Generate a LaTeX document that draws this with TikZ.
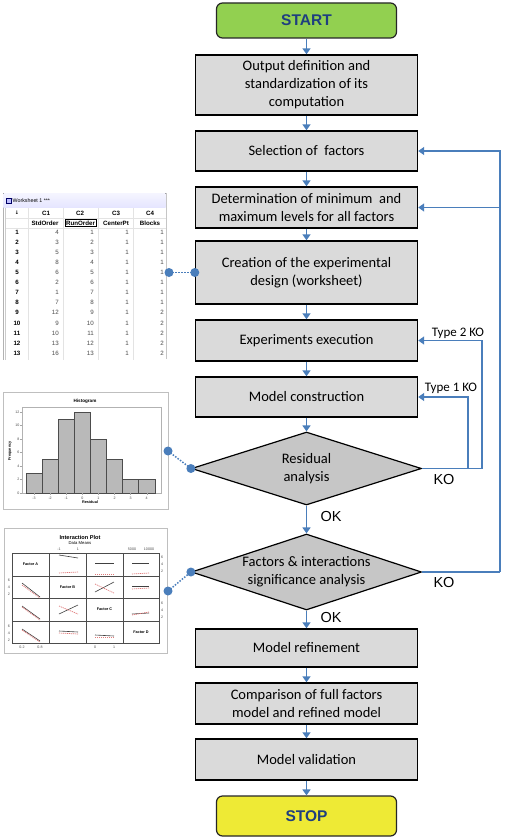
\documentclass[tikz,border=0pt]{standalone}
\usepackage{fontspec}
\setmainfont{Carlito}
\newfontfamily\arialf{Liberation Sans}
\newfontfamily\djvf{DejaVu Sans}
\usetikzlibrary{shapes.geometric,arrows.meta,calc}
\definecolor{flowblue}{HTML}{4A7EBB}
\definecolor{boxgray}{HTML}{DADADA}
\definecolor{diagray}{HTML}{C6C6C6}
\definecolor{startgreen}{HTML}{92D050}
\definecolor{stopyellow}{HTML}{EEEA35}
\definecolor{titleblue}{HTML}{1F3F7F}
\definecolor{plotred}{HTML}{E07A7A}
\begin{document}
\begin{tikzpicture}[x=1pt,y=-1pt,
  proc/.style={rectangle, draw=black, line width=1.4pt, fill=boxgray, minimum width=222pt, inner sep=0pt, align=center, font=\fontsize{14.5}{18}\selectfont},
  term/.style={rectangle, rounded corners=6pt, draw=black!85, line width=1.2pt, minimum width=180pt, font=\arialf\bfseries\fontsize{15.5}{18}\selectfont, text=titleblue},
  dec/.style={diamond, draw=black, line width=1.2pt, fill=diagray, shape aspect=3, inner sep=0pt, minimum width=230pt, align=center, font=\fontsize{14.5}{18}\selectfont},
  arr/.style={draw=flowblue, line width=1.8pt, -{Triangle[width=8pt,length=6pt]}},
  loopline/.style={draw=flowblue, line width=1.4pt},
  looparr/.style={loopline, -{Triangle[width=8pt,length=6pt]}},
  lbl/.style={font=\arialf\fontsize{14.5}{17}\selectfont},
  tlbl/.style={font=\fontsize{13}{15}\selectfont},
  dot/.style={circle, fill=flowblue, minimum size=9pt, inner sep=0pt},
  dotline/.style={draw=flowblue, line width=1.5pt, dash pattern=on 1.5pt off 1.5pt},
  wsb/.style={font=\arialf\bfseries\fontsize{6.2}{7}\selectfont, inner sep=0pt},
  wsv/.style={font=\arialf\fontsize{6.2}{7}\selectfont, text=black!70, inner sep=0pt, anchor=east},
  tiny/.style={font=\arialf\fontsize{3.6}{4}\selectfont, inner sep=0pt, text=black!70},
  tinyb/.style={font=\arialf\bfseries\fontsize{3.8}{4}\selectfont, inner sep=0pt},
  blk/.style={draw=black!75, line width=0.6pt},
  redd/.style={draw=plotred, line width=0.7pt, dash pattern=on 1.2pt off 0.8pt},
]
\useasboundingbox[fill=white] (0,0) rectangle (505,840);

% ---------------- main flow ----------------
\node[term, fill=startgreen, minimum height=35pt] (start) at (306.5,20.5) {START};
\node[proc, minimum height=60pt] (b1) at (306.5,85) {Output definition and\\standardization of its\\computation};
\node[proc, minimum height=40pt] (b2) at (306.5,151) {Selection of\ \ factors};
\node[proc, minimum height=41pt] (b3) at (306.5,207.5) {Determination of minimum\ \ and\\maximum levels for all factors};
\node[proc, minimum height=63pt] (b4) at (306.5,272.5) {Creation of the experimental\\design (worksheet)};
\node[proc, minimum height=41pt] (b5) at (306.5,340.5) {Experiments execution};
\node[proc, minimum height=40pt] (b6) at (306.5,397) {Model construction};
\node[dec, minimum height=73pt] (d1) at (306.5,468.5) {Residual\\analysis};
\node[dec, minimum height=76pt] (d2) at (306.5,572) {Factors \& interactions\\significance analysis};
\node[proc, minimum height=38pt] (b7) at (306.5,648) {Model refinement};
\node[proc, minimum height=41pt] (b8) at (306.5,703.5) {Comparison of full factors\\model and refined model};
\node[proc, minimum height=41pt] (b9) at (306.5,759.5) {Model validation};
\node[term, fill=stopyellow, minimum height=40pt] (stop) at (306.5,816) {STOP};

\foreach \a/\b in {start/b1,b1/b2,b2/b3,b3/b4,b4/b5,b5/b6,b6/d1,d1/d2,d2/b7,b7/b8,b8/b9,b9/stop}
  \draw[arr] (\a.south) -- (\b.north);

\node[lbl] (ok1) at (331,517) {OK};
\node[lbl] (ko1) at (444,480) {KO};
\node[lbl] (ok2) at (331,618) {OK};
\node[lbl] (ko2) at (444,583) {KO};
\node[tlbl] (t2) at (458,333) {Type 2 KO};
\node[tlbl] (t1) at (451,388) {Type 1 KO};

\coordinate (c2) at (482,468.5);
\coordinate (c1) at (468,468.5);
\coordinate (cm) at (500,572);
\draw[loopline] (d1.east) -- (c2);
\draw[looparr] (c2) |- (b5.east);
\draw[looparr] (c1) |- (b6.east);
\draw[loopline] (d2.east) -- (cm);
\draw[looparr] (cm) |- (b2.east);
\draw[looparr] (cm |- b3.east) -- (b3.east);

% ---------------- worksheet ----------------
\node[draw=gray!45, fill=white, line width=0.6pt, minimum width=163pt, minimum height=168pt, inner sep=0pt, anchor=north west] (wsframe) at (3,193) {};
\fill[white] (2,359) rectangle (168,362);
\draw[gray!60, line width=0.5pt] (3,193) -- (3,360);
\draw[gray!40, line width=0.5pt] (5.5,208) -- (5.5,360);
\fill[top color=blue!4, bottom color=blue!10] (3.4,193.4) rectangle (165.6,207);
\node[draw=blue!40!black, fill=blue!25, minimum width=5pt, minimum height=5pt, inner sep=0pt] (wsicon) at (9,201) {};
\node[font=\arialf\fontsize{5.3}{6}\selectfont, anchor=west, inner sep=0pt] (wstitle) at (12.5,201) {Worksheet 1 ***};
\foreach \x in {28,63,98,133} \draw[gray!22, line width=0.4pt] (\x,208) -- (\x,360);
\draw[gray!22, line width=0.4pt] (5.5,218) -- (166,218) (5.5,228.5) -- (166,228.5);
\node[font=\djvf\bfseries\fontsize{5}{6}\selectfont, inner sep=0pt] (wsarrow) at (17,213) {↓};
\node[wsb] (hc1) at (46,213) {C1};
\node[wsb] (hc2) at (80,213) {C2};
\node[wsb] (hc3) at (116,213) {C3};
\node[wsb] (hc4) at (150,213) {C4};
\node[wsb] (hn1) at (45,223) {StdOrder};
\node[wsb, draw=black, line width=0.8pt, inner sep=1pt] (hn2) at (80.5,223) {RunOrder};
\node[wsb] (hn3) at (116,223) {CenterPt};
\node[wsb] (hn4) at (150,223) {Blocks};
\foreach \v [count=\i] in {4,3,5,8,6,2,1,7,12,9,10,13,16} {
  \node[wsb] (ri\i) at (17,{232+(\i-1)*10.1}) {\i};
  \node[wsv] (va\i) at (59,{232+(\i-1)*10.1}) {\v};
  \node[wsv] (vb\i) at (94,{232+(\i-1)*10.1}) {\i};
  \node[wsv] (vc\i) at (129,{232+(\i-1)*10.1}) {1};
}
\foreach \v [count=\i] in {1,1,1,1,1,1,1,1,2,2,2,2,2}
  \node[wsv] (vd\i) at (164,{232+(\i-1)*10.1}) {\v};

% ---------------- histogram ----------------
\node[draw=gray!50, fill=white, line width=0.6pt, minimum width=165pt, minimum height=117pt, inner sep=0pt, anchor=north west] (hframe) at (3,392) {};
\draw[gray!60, line width=0.5pt] (22,407) rectangle (161,493);
\foreach \h [count=\i] in {3,5,11,12,8,5,2,2}
  \draw[fill=gray!55, draw=black!70, line width=0.5pt] ({26+(\i-1)*16.1},493) rectangle ({26+\i*16.1},{493-\h*6.75});
\foreach \t [count=\i] in {-3,-2,-1,0,1,2,3,4} {
  \draw[gray!70, line width=0.4pt] ({34+(\i-1)*16.1},493) -- ({34+(\i-1)*16.1},495);
  \node[tiny] (hx\i) at ({34+(\i-1)*16.1},498) {\t};
}
\foreach \v [count=\i] in {0,2,4,6,8,10,12} {
  \draw[gray!70, line width=0.4pt] (22,{493-\v*6.75}) -- (20,{493-\v*6.75});
  \node[tiny, anchor=east] (hy\i) at (19.5,{493-\v*6.75}) {\v};
}
\node[font=\arialf\bfseries\fontsize{4.6}{5}\selectfont, inner sep=0pt] (htitle) at (85,401) {Histogram};
\node[tinyb] (hxl) at (90,502.5) {Residual};
\node[tinyb, rotate=90] (hyl) at (10,451) {Frequency};

% ---------------- interaction plot ----------------
\node[draw=gray!50, fill=white, line width=0.6pt, minimum width=163pt, minimum height=125pt, inner sep=0pt, anchor=north west] (iframe) at (4,528) {};
\node[font=\arialf\bfseries\fontsize{5.6}{6}\selectfont, inner sep=0pt] (ititle) at (80,537) {Interaction Plot};
\node[font=\arialf\fontsize{4.2}{5}\selectfont, inner sep=0pt] (isub) at (80,543.5) {Data Means};
\draw[gray!60!black, line width=0.6pt] (12,553) rectangle (159,643);
\foreach \x in {49,86,123} \draw[gray!60!black, line width=0.6pt] (\x,553) -- (\x,643);
\foreach \y in {576,598,621} \draw[gray!60!black, line width=0.6pt] (12,\y) -- (159,\y);
\node[tinyb] (fa) at (30.5,564.5) {Factor A};
\node[tinyb] (fb) at (67.5,587) {Factor B};
\node[tinyb] (fc) at (104.5,609.5) {Factor C};
\node[tinyb] (fd) at (141,632) {Factor D};
% black (solid) and red (dashed) mean lines
\draw[blk] (59,555) -- (78,558);   \draw[redd] (59,573) -- (78,572);
\draw[blk] (95,563) -- (114,563);  \draw[redd] (95,574) -- (114,574);
\draw[blk] (132,563) -- (149,563); \draw[redd] (132,574) -- (149,573);
\draw[blk] (22,583) -- (40,597);   \draw[redd] (22,585) -- (40,598);
\draw[blk] (95,592) -- (114,582);  \draw[redd] (95,584) -- (114,593);
\draw[blk] (132,586) -- (149,586); \draw[redd] (132,589) -- (149,588);
\draw[blk] (22,606) -- (40,619);   \draw[redd] (22,607) -- (40,620);
\draw[blk] (59,614) -- (78,605);   \draw[redd] (59,606) -- (78,614);
\draw[blk] (132,614) -- (149,613); \draw[redd] (132,615) -- (149,612);
\draw[blk] (22,629) -- (40,641);   \draw[redd] (22,630) -- (40,642);
\draw[blk] (59,631) -- (78,632);   \draw[redd] (59,633) -- (78,634);
\draw[blk] (95,635) -- (114,636);  \draw[redd] (95,637) -- (114,637);
% axis labels
\node[tiny] (it1) at (59,549.5) {-1};
\node[tiny] (it2) at (78,549.5) {1};
\node[tiny] (it3) at (132,549.5) {5000};
\node[tiny] (it4) at (149,549.5) {10000};
\foreach \v/\y [count=\i] in {6/557,4/564,2/571} \node[tiny, anchor=west] (ir\i) at (161,\y) {\v};
\foreach \v/\y [count=\i] in {6/603,4/610,2/617} \node[tiny, anchor=west] (is\i) at (161,\y) {\v};
\foreach \v/\y [count=\i] in {6/580,4/587,2/594} \node[tiny, anchor=east] (il\i) at (10,\y) {\v};
\foreach \v/\y [count=\i] in {6/626,4/633,2/640} \node[tiny, anchor=east] (im\i) at (10,\y) {\v};
\node[tiny] (ib1) at (22,647.5) {0.2};
\node[tiny] (ib2) at (40,647.5) {0.8};
\node[tiny] (ib3) at (95,647.5) {0};
\node[tiny] (ib4) at (114,647.5) {1};

% ---------------- dotted links ----------------
\coordinate (wsd) at (169,272.5);
\coordinate (hd) at (168,451);
\coordinate (idd) at (168,591);
\draw[dotline] (wsd) -- (b4.west);
\draw[dotline] (hd) -- (d1.west);
\draw[dotline] (idd) -- (d2.west);
\node[dot] (dw1) at (wsd) {};
\node[dot] (dw2) at (b4.west) {};
\node[dot] (dh1) at (hd) {};
\node[dot] (dh2) at (d1.west) {};
\node[dot] (di1) at (idd) {};
\node[dot] (di2) at (d2.west) {};
\end{tikzpicture}
\end{document}
